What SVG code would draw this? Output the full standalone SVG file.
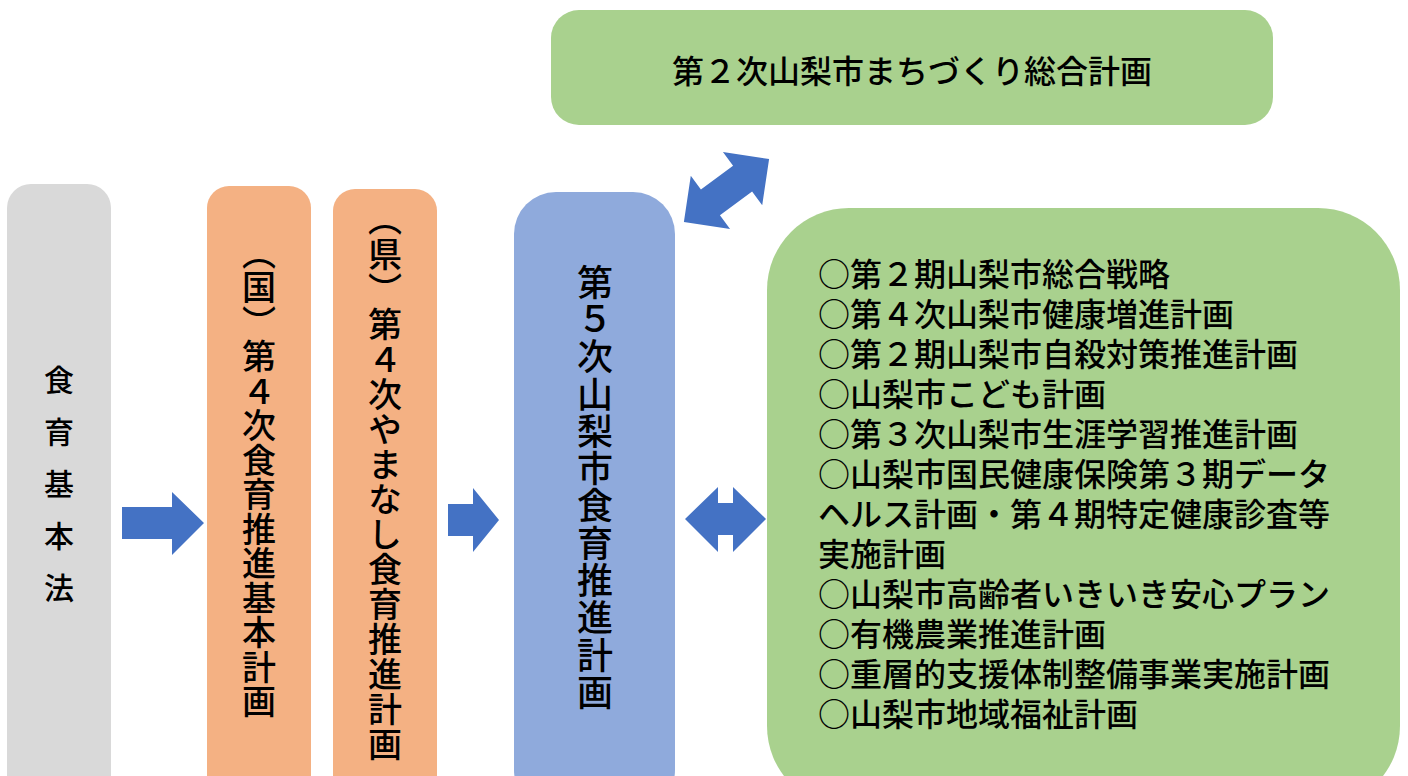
<svg xmlns="http://www.w3.org/2000/svg" width="1408" height="776" viewBox="0 0 1408 776">
<style>
text{font-family:"Noto Sans CJK JP","Noto Sans CJK SC",sans-serif;fill:#000;font-weight:500;}
.v{writing-mode:vertical-rl;text-orientation:upright;}
.arrow{fill:#4472c4;}
</style>
<rect width="1408" height="776" fill="#fff"/>
<g id="node-shokuiku-kihonho">
<rect x="7" y="184" width="104" height="620" rx="24" fill="#d9d9d9"/>
<text class="v" x="59" y="365" font-size="30" letter-spacing="22">食育基本法</text>
</g>
<g id="node-kuni">
<rect x="207" y="186" width="104" height="620" rx="22" fill="#f4b183"/>
<text class="v" x="259" y="236" font-size="34" letter-spacing="0.5">（国）第４次食育推進基本計画</text>
</g>
<g id="node-ken">
<rect x="333" y="189" width="104" height="620" rx="22" fill="#f4b183"/>
<text class="v" x="385" y="202" font-size="34" letter-spacing="1">（県）第４次やまなし食育推進計画</text>
</g>
<g id="node-main">
<rect x="514" y="192" width="161" height="620" rx="42" fill="#8faadc"/>
<text class="v" x="595" y="264" font-size="36" letter-spacing="1.3">第５次山梨市食育推進計画</text>
</g>
<g id="node-machizukuri">
<rect x="551" y="10" width="722" height="115" rx="28" fill="#a9d18e"/>
<text x="912" y="69" font-size="32" text-anchor="middle" dominant-baseline="central">第２次山梨市まちづくり総合計画</text>
</g>
<g id="node-related">
<rect x="767" y="208" width="633" height="600" rx="82" fill="#a9d18e"/>
<g font-size="32">
<text x="818" y="272" dominant-baseline="central">○第２期山梨市総合戦略</text>
<text x="818" y="312" dominant-baseline="central">○第４次山梨市健康増進計画</text>
<text x="818" y="352" dominant-baseline="central">○第２期山梨市自殺対策推進計画</text>
<text x="818" y="392" dominant-baseline="central">○山梨市こども計画</text>
<text x="818" y="432" dominant-baseline="central">○第３次山梨市生涯学習推進計画</text>
<text x="818" y="472" dominant-baseline="central">○山梨市国民健康保険第３期データ</text>
<text x="818" y="512" dominant-baseline="central">ヘルス計画・第４期特定健康診査等</text>
<text x="818" y="552" dominant-baseline="central">実施計画</text>
<text x="818" y="592" dominant-baseline="central">○山梨市高齢者いきいき安心プラン</text>
<text x="818" y="632" dominant-baseline="central">○有機農業推進計画</text>
<text x="818" y="672" dominant-baseline="central">○重層的支援体制整備事業実施計画</text>
<text x="818" y="712" dominant-baseline="central">○山梨市地域福祉計画</text>
</g>
</g>
<g id="connectors">
<polygon class="arrow" points="122,507 172,507 172,492 204,523 172,555 172,539 122,539"/>
<polygon class="arrow" points="448,504 473,504 473,488 499,520 473,552 473,536 448,536"/>
<polygon class="arrow" points="685,519 718,487 718,503 733,503 733,487 766,519 733,552 733,535 718,535 718,552"/>
<polygon class="arrow" transform="translate(726.5,190.5) rotate(-36.5)" points="-53,0 -20,-33 -20,-16 20,-16 20,-33 53,0 20,33 20,16 -20,16 -20,33"/>
</g>
</svg>
